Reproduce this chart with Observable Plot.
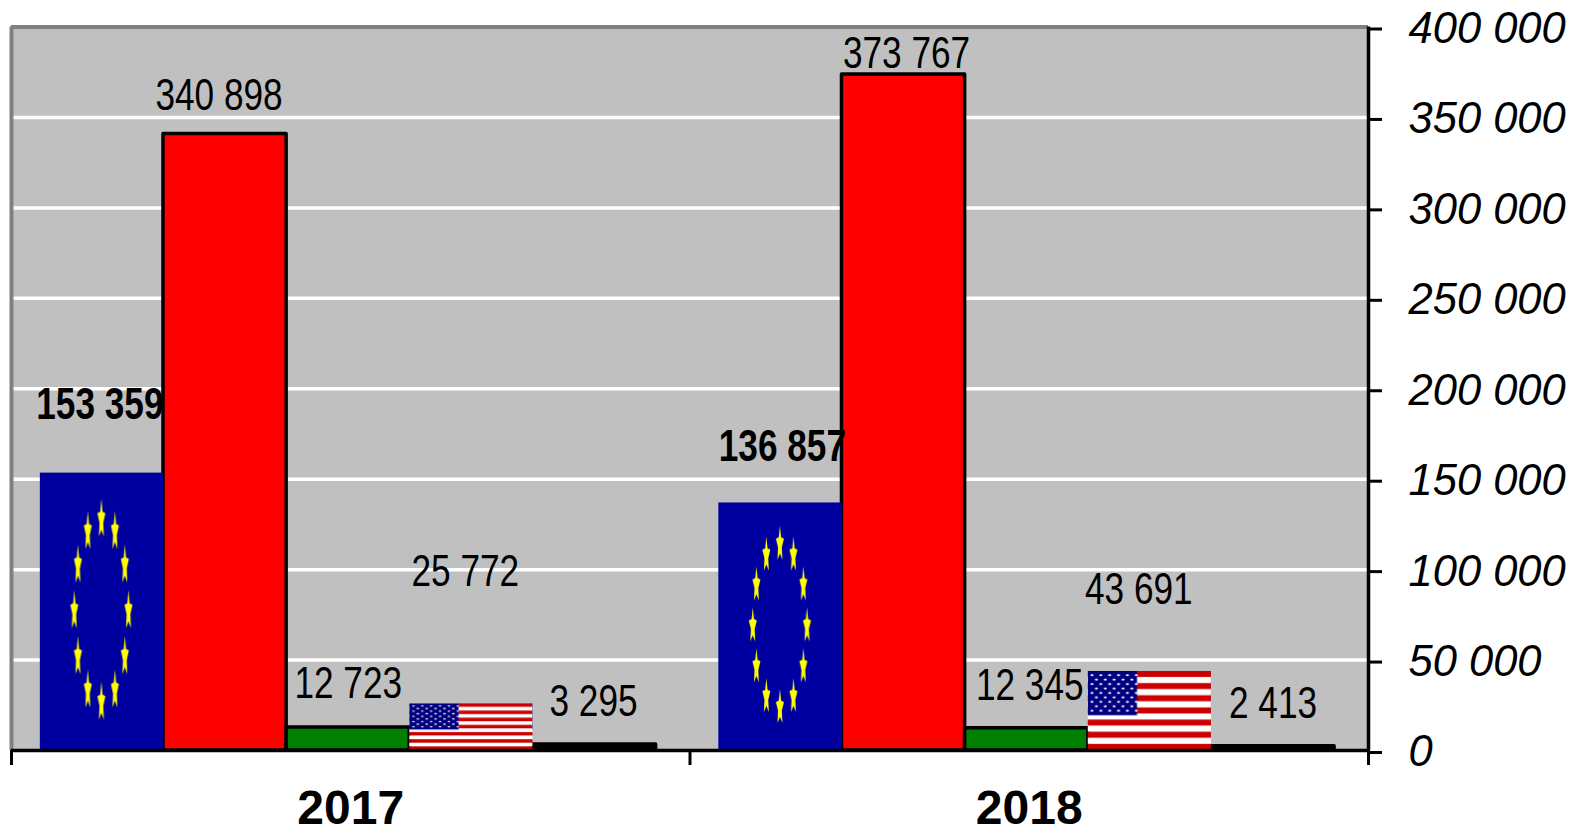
<!DOCTYPE html>
<html>
<head>
<meta charset="utf-8">
<style>
html,body{margin:0;padding:0;background:#fff}
svg{display:block}
</style>
<script src="https://cdn.jsdelivr.net/npm/d3@7"></script>
<script src="https://cdn.jsdelivr.net/npm/@observablehq/plot@0.6"></script>
</head>
<body>
<div id="chart"></div>
<script>
const years = ["2017", "2018"];
const series = ["EU", "red", "green", "USA", "other"];
const values2017 = [153359, 340898, 12723, 25772, 3295];
const values2018 = [136857, 373767, 12345, 43691, 2413];
const yTicks = [0, 50000, 100000, 150000, 200000, 250000, 300000, 350000, 400000];

const fmt = d3.formatLocale({decimal: ",", thousands: " ", grouping: [3], currency: ["", ""]}).format(",d");

// layout of the bars inside one year's slot, and of the labels above them
const slotPad = 0.0425, barW = 0.1815;
const paint = {EU: "url(#flag-eu)", red: "#ff0000", green: "#008000", USA: "url(#flag-us)", other: "#000000"};
const outlined = {EU: false, red: true, green: true, USA: false, other: true};
const lift = {
  "2017": {EU: 68, red: 38, green: 44, USA: 132, other: 43},
  "2018": {EU: 56, red: 21, green: 42, USA: 82, other: 42}
};
const nudge = {
  "2017": {EU: -2, red: -6, green: 0, USA: -6, other: -1},
  "2018": {EU: 2, red: 3, green: 3, USA: -11, other: 0}
};

const rows = years.flatMap((year, g) =>
  (g === 0 ? values2017 : values2018).map((value, i) => ({
    year, series: series[i], value,
    x1: g + slotPad + i * barW,
    x2: g + slotPad + (i + 1) * barW
  })));

const FONT = "Liberation Sans, Arial, sans-serif";

const plot = Plot.plot({
  width: 1583,
  height: 833,
  marginLeft: 11,
  marginRight: 215,
  marginTop: 26.5,
  marginBottom: 83,
  x: {domain: [0, 2], axis: null},
  y: {domain: [0, 400000], axis: null},
  color: {type: "identity"},
  marks: [
    Plot.frame({fill: "#c0c0c0", stroke: "none"}),
    Plot.ruleY(yTicks.slice(1, -1), {stroke: "#ffffff", strokeWidth: 3.5}),
    Plot.ruleY([400000], {stroke: "#808080", strokeWidth: 4}),
    Plot.ruleX([0], {stroke: "#808080", strokeWidth: 4}),
    Plot.rectY(rows.filter(d => outlined[d.series]), {
      x1: "x1", x2: "x2", y1: 0, y2: "value",
      fill: d => paint[d.series], stroke: "#000", strokeWidth: 3.5, strokeLinejoin: "round"
    }),
    Plot.rectY(rows.filter(d => !outlined[d.series]), {
      x1: "x1", x2: "x2", y1: 0, y2: "value",
      fill: d => paint[d.series]
    }),
    Plot.ruleY([0], {stroke: "#000", strokeWidth: 3.5}),
    Plot.ruleX([2], {stroke: "#000", strokeWidth: 3.5}),
    Plot.axisX({
      anchor: "bottom", ticks: [0, 1, 2], tickSize: 15, strokeWidth: 3,
      tickFormat: () => "", label: null, stroke: "#000", strokeOpacity: 1
    }),
    Plot.axisX({
      anchor: "bottom", ticks: [0.5, 1.5], tickSize: 0, tickPadding: 39,
      tickFormat: d => years[Math.floor(d)], label: null,
      fontFamily: FONT, fontSize: 48, fontWeight: "bold", color: "#000"
    }),
    Plot.axisY({
      anchor: "right", ticks: yTicks, tickSize: 13, tickPadding: 27, strokeWidth: 3,
      tickFormat: fmt, label: null, dy: 2,
      fontFamily: FONT, fontSize: 43.5, fontStyle: "italic", color: "#000", strokeOpacity: 1, textAnchor: "start"
    }),
    ...rows.map(d => Plot.text([d], {
      x: r => (r.x1 + r.x2) / 2,
      y: "value",
      text: r => fmt(r.value),
      dy: -lift[d.year][d.series],
      dx: nudge[d.year][d.series],
      fontFamily: FONT,
      fontSize: 44,
      fontWeight: d.series === "EU" ? "bold" : "normal",
      fill: "#000",
      className: "value-label"
    }))
  ]
});

// Flag paints used as bar fills: they stretch with each bar's box
const stars = d3.range(12).map(k => {
  const a = k / 12 * 2 * Math.PI;
  const cx = 50 + 22 * Math.sin(a), cy = 50 - 33 * Math.cos(a);
  const pts = d3.range(10).map(j => {
    const r = j % 2 ? 1.9 : 4, t = j / 10 * 2 * Math.PI;
    return `${cx + r * Math.sin(t) * 0.85},${cy - r * Math.cos(t) * 1.9}`;
  }).join(" ");
  return `<polygon points="${pts}" fill="#ffff00"/>`;
}).join("");

const stripes = d3.range(13).map(k =>
  `<rect x="0" y="${k * 100 / 13}" width="100" height="${100 / 13 + 0.05}" fill="${k % 2 ? "#ffffff" : "#cc0000"}"/>`
).join("");
const usStars = d3.range(9).flatMap(r => d3.range(r % 2 ? 5 : 6).map(c =>
  `<circle cx="${(r % 2 ? 7 : 3.4) + c * 7.2}" cy="${5.4 + r * 5.6}" r="1.25" fill="#ffffff"/>`
)).join("");

const defs = document.createElementNS("http://www.w3.org/2000/svg", "defs");
defs.innerHTML = `
<pattern id="flag-eu" patternUnits="objectBoundingBox" patternContentUnits="objectBoundingBox" width="1" height="1">
  <svg x="0" y="0" width="1" height="1" viewBox="0 0 100 100" preserveAspectRatio="none">
    <rect width="100" height="100" fill="#0000a0"/>${stars}
  </svg>
</pattern>
<pattern id="flag-us" patternUnits="objectBoundingBox" patternContentUnits="objectBoundingBox" width="1" height="1">
  <svg x="0" y="0" width="1" height="1" viewBox="0 0 100 100" preserveAspectRatio="none">
    ${stripes}<rect width="40" height="56" fill="#000080"/>${usStars}
  </svg>
</pattern>`;
plot.insertBefore(defs, plot.firstChild);
document.getElementById("chart").appendChild(plot);

// The data labels are set in a condensed face: squeeze the glyphs horizontally
plot.querySelectorAll(".value-label text").forEach(t => {
  t.setAttribute("textLength", t.getComputedTextLength() * 0.8);
  t.setAttribute("lengthAdjust", "spacingAndGlyphs");
});
</script>
</body>
</html>
